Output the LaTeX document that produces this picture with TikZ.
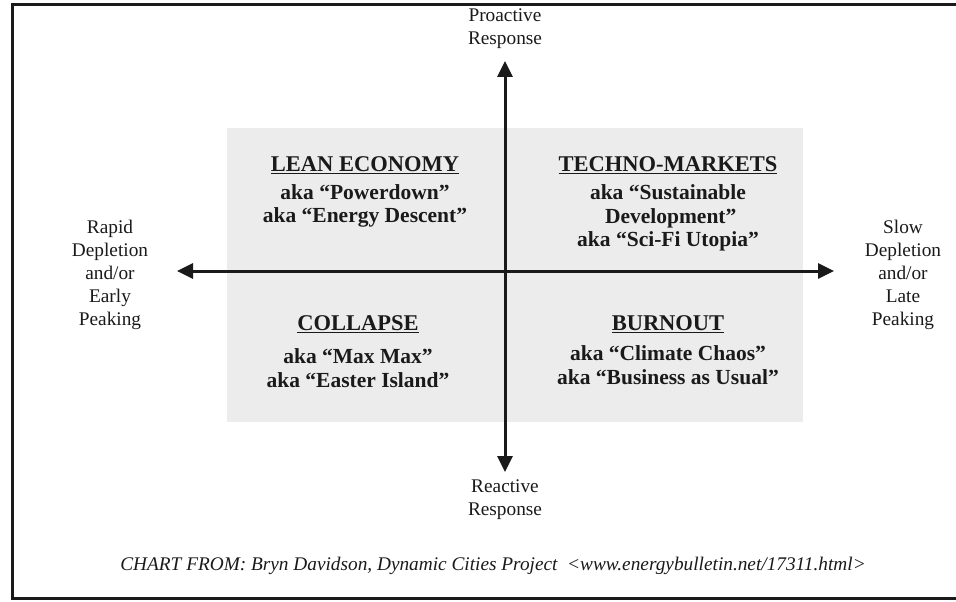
\documentclass[tikz,border=0pt]{standalone}
\usepackage{fontspec}
\setmainfont{Liberation Serif}
\usetikzlibrary{arrows.meta}
\definecolor{panelgray}{HTML}{ECECEC}
\definecolor{ink}{HTML}{1A1A1A}
\tikzset{
  axis/.style={line width=3pt, draw=ink, -{Triangle[length=16pt,width=15pt]}},
  sidelbl/.style={align=center, font=\fontsize{19.3}{23}\selectfont, text=ink, inner sep=0pt},
  head/.style={font=\bfseries\fontsize{22.5}{24}\selectfont, text=ink, inner sep=0pt},
  aka/.style={align=center, font=\bfseries\fontsize{21.5}{23.5}\selectfont, text=ink, inner sep=0pt},
  frame/.style={line width=3pt, draw=ink},
}
\begin{document}
\begin{tikzpicture}[x=1pt,y=-1pt]
\useasboundingbox (0,0) rectangle (956,602);
\fill[white] (0,0) rectangle (956,602);
% frame (right side runs off the page)
\coordinate (fTR) at (970,5);
\coordinate (fTL) at (12,5);
\coordinate (fBL) at (12,598);
\coordinate (fBR) at (970,598);
\draw[frame] (fTR) -- (fTL) -- (fBL) -- (fBR);
% gray panel
\fill[panelgray] (227,128) rectangle (803,422);
% axes
\coordinate (top) at (505,61);
\coordinate (bot) at (505,472);
\coordinate (lft) at (177,271);
\coordinate (rgt) at (834,271);
\coordinate (ctr) at (505,271);
\draw[axis] (ctr) -- (top);
\draw[axis] (ctr) -- (bot);
\draw[axis] (ctr) -- (lft);
\draw[axis] (ctr) -- (rgt);
% axis labels
\node[sidelbl] (pro) at (505,29) {Proactive\\Response};
\node[sidelbl] (rea) at (505,500) {Reactive\\Response};
\node[sidelbl] (rap) at (110,275) {Rapid\\Depletion\\and/or\\Early\\Peaking};
\node[sidelbl] (slo) at (903,275) {Slow\\Depletion\\and/or\\Late\\Peaking};
% quadrants
\node[head] (lean) at (365,165) {\underline{LEAN ECONOMY}};
\node[aka] (leanA) at (365,206) {aka “Powerdown”\\aka “Energy Descent”};
\node[head] (tech) at (668,165) {\underline{TECHNO-MARKETS}};
\node[aka] (techA) at (668,218) {aka “Sustainable\\\ Development”\\aka “Sci-Fi Utopia”};
\node[head] (coll) at (358,324) {\underline{COLLAPSE}};
\node[aka] (collA) at (358,368) {aka “Max Max”\\aka “Easter Island”};
\node[head] (burn) at (668,324) {\underline{BURNOUT}};
\node[aka] (burnA) at (668,365) {aka “Climate Chaos”\\aka “Business as Usual”};
% caption
\node[font=\itshape\fontsize{19.3}{22}\selectfont, text=ink, inner sep=0pt] (cap) at (493,566)
  {CHART FROM: Bryn Davidson, Dynamic Cities Project\ \ <www.energybulletin.net/17311.html>};
\end{tikzpicture}
\end{document}
